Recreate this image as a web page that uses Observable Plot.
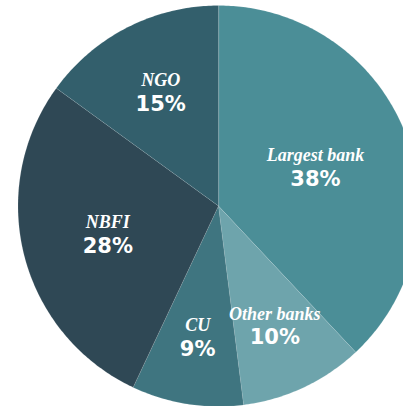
<!DOCTYPE html>
<html>
<head>
<meta charset="utf-8">
<script src="https://cdn.jsdelivr.net/npm/d3@7"></script>
<script src="https://cdn.jsdelivr.net/npm/@observablehq/plot@0.6"></script>
<style>
  html, body { margin: 0; padding: 0; background: #ffffff; overflow: hidden; }
  #chart svg { display: block; }
</style>
</head>
<body>
<div id="chart"></div>
<script>
const categories = ["Largest bank", "Other banks", "CU", "NBFI", "NGO"];
const shares = [38, 10, 9, 28, 15];
const sliceColors = ["#4b8e97", "#6ea4ac", "#3f7580", "#2f4855", "#335f6c"];

const W = 403, H = 406;
const cx = 218, cy = 205.5, R = 200.5;

const pie = d3.pie().sort(null).value(d => d.value).startAngle(0).endAngle(2 * Math.PI);
const arcs = pie(categories.map((c, i) => ({category: c, value: shares[i]})));

// polygon vertices in unit coordinates (radius = 1)
const verts = [];
arcs.forEach(a => {
  const cat = a.data.category;
  verts.push({category: cat, u: 0, v: 0});
  const n = Math.max(8, Math.ceil((a.endAngle - a.startAngle) * 80));
  for (let k = 0; k <= n; k++) {
    const t = a.startAngle + (a.endAngle - a.startAngle) * k / n;
    verts.push({category: cat, u: Math.sin(t), v: Math.cos(t)});
  }
});

const labels = arcs.map(a => {
  const mid = (a.startAngle + a.endAngle) / 2;
  const r = 0.71 - 0.005 * a.data.value;
  return {category: a.data.category, pct: a.data.value + "%", u: r * Math.sin(mid), v: r * Math.cos(mid)};
});

const chart = Plot.plot({
  width: W,
  height: H,
  margin: 0,
  style: {background: "#ffffff"},
  x: {domain: [-cx / R, (W - cx) / R], range: [0, W], axis: null},
  y: {domain: [(cy - H) / R, cy / R], range: [H, 0], axis: null},
  color: {domain: categories, range: sliceColors},
  marks: [
    Plot.line(verts, {x: "u", y: "v", z: "category", fill: "category", stroke: "#ffffff", strokeOpacity: 0.2, strokeWidth: 0.6, curve: "linear-closed", clip: true}),
    Plot.text(labels, {x: "u", y: "v", text: "category", dy: -12, fill: "#ffffff", fontFamily: "Liberation Serif", fontStyle: "italic", fontWeight: "bold", fontSize: 18}),
    Plot.text(labels, {x: "u", y: "v", text: "pct", dy: 11.5, fill: "#ffffff", fontFamily: "DejaVu Sans", fontWeight: "bold", fontSize: 21})
  ]
});
document.getElementById("chart").appendChild(chart);
</script>
</body>
</html>
